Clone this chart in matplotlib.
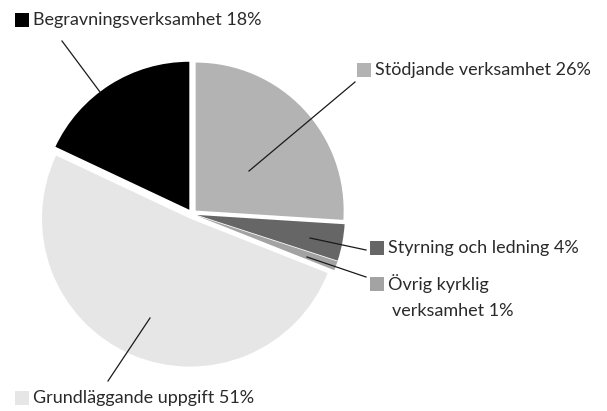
import matplotlib.pyplot as plt
from matplotlib.patches import Rectangle

# data
labels = ['Stödjande verksamhet', 'Styrning och ledning', 'Övrig kyrklig\nverksamhet',
          'Grundläggande uppgift', 'Begravningsverksamhet']
shares = [26, 4, 1, 51, 18]
colors = ['#b3b3b3', '#666666', '#a3a3a3', '#e6e6e6', '#000000']

W, H = 607, 411
plt.rcParams['font.family'] = ['Lato', 'DejaVu Sans']

fig = plt.figure(figsize=(W / 100, H / 100), dpi=100)
ax = fig.add_axes([0, 0, 1, 1])

def py(y):
    # pixel row -> data y (y up)
    return H - y

cx, cy, r = 192, 214, 148
ax.pie(shares, colors=colors, startangle=90, counterclock=False,
       center=(cx, py(cy)), radius=r, explode=[5] * len(shares),
       wedgeprops=dict(linewidth=0))

ax.set_xlim(0, W)
ax.set_ylim(0, H)
ax.set_aspect('equal')
ax.axis('off')

# leader lines: (from inside slice, to label)
leaders = [((249, 171), (355, 82)),
           ((310, 238), (366, 250)),
           ((307, 257), (366, 277)),
           ((150, 318), (108, 381)),
           ((100, 92), (62, 41))]
for (x0, y0), (x1, y1) in leaders:
    ax.plot([x0, x1], [py(y0), py(y1)], color='#1a1a1a', lw=0.9)

# label squares + text
label_pos = [(357, 70), (370, 248), (370, 284), (15, 398), (15, 20)]
text_col = '#2a2a2a'
fs = 13
for lab, val, col, (x, y) in zip(labels, shares, colors, label_pos):
    ax.add_patch(Rectangle((x, py(y) - 7), 14, 14, color=col, lw=0))
    lines = (lab + f' {val}%').split('\n')
    ax.text(x + 18, py(y), lines[0], fontsize=fs, color=text_col,
            va='center', ha='left')
    if len(lines) > 1:
        ax.text(x + 22, py(y + 27), lines[1], fontsize=fs, color=text_col,
                va='center', ha='left')

fig.savefig('out.png', dpi=100)
